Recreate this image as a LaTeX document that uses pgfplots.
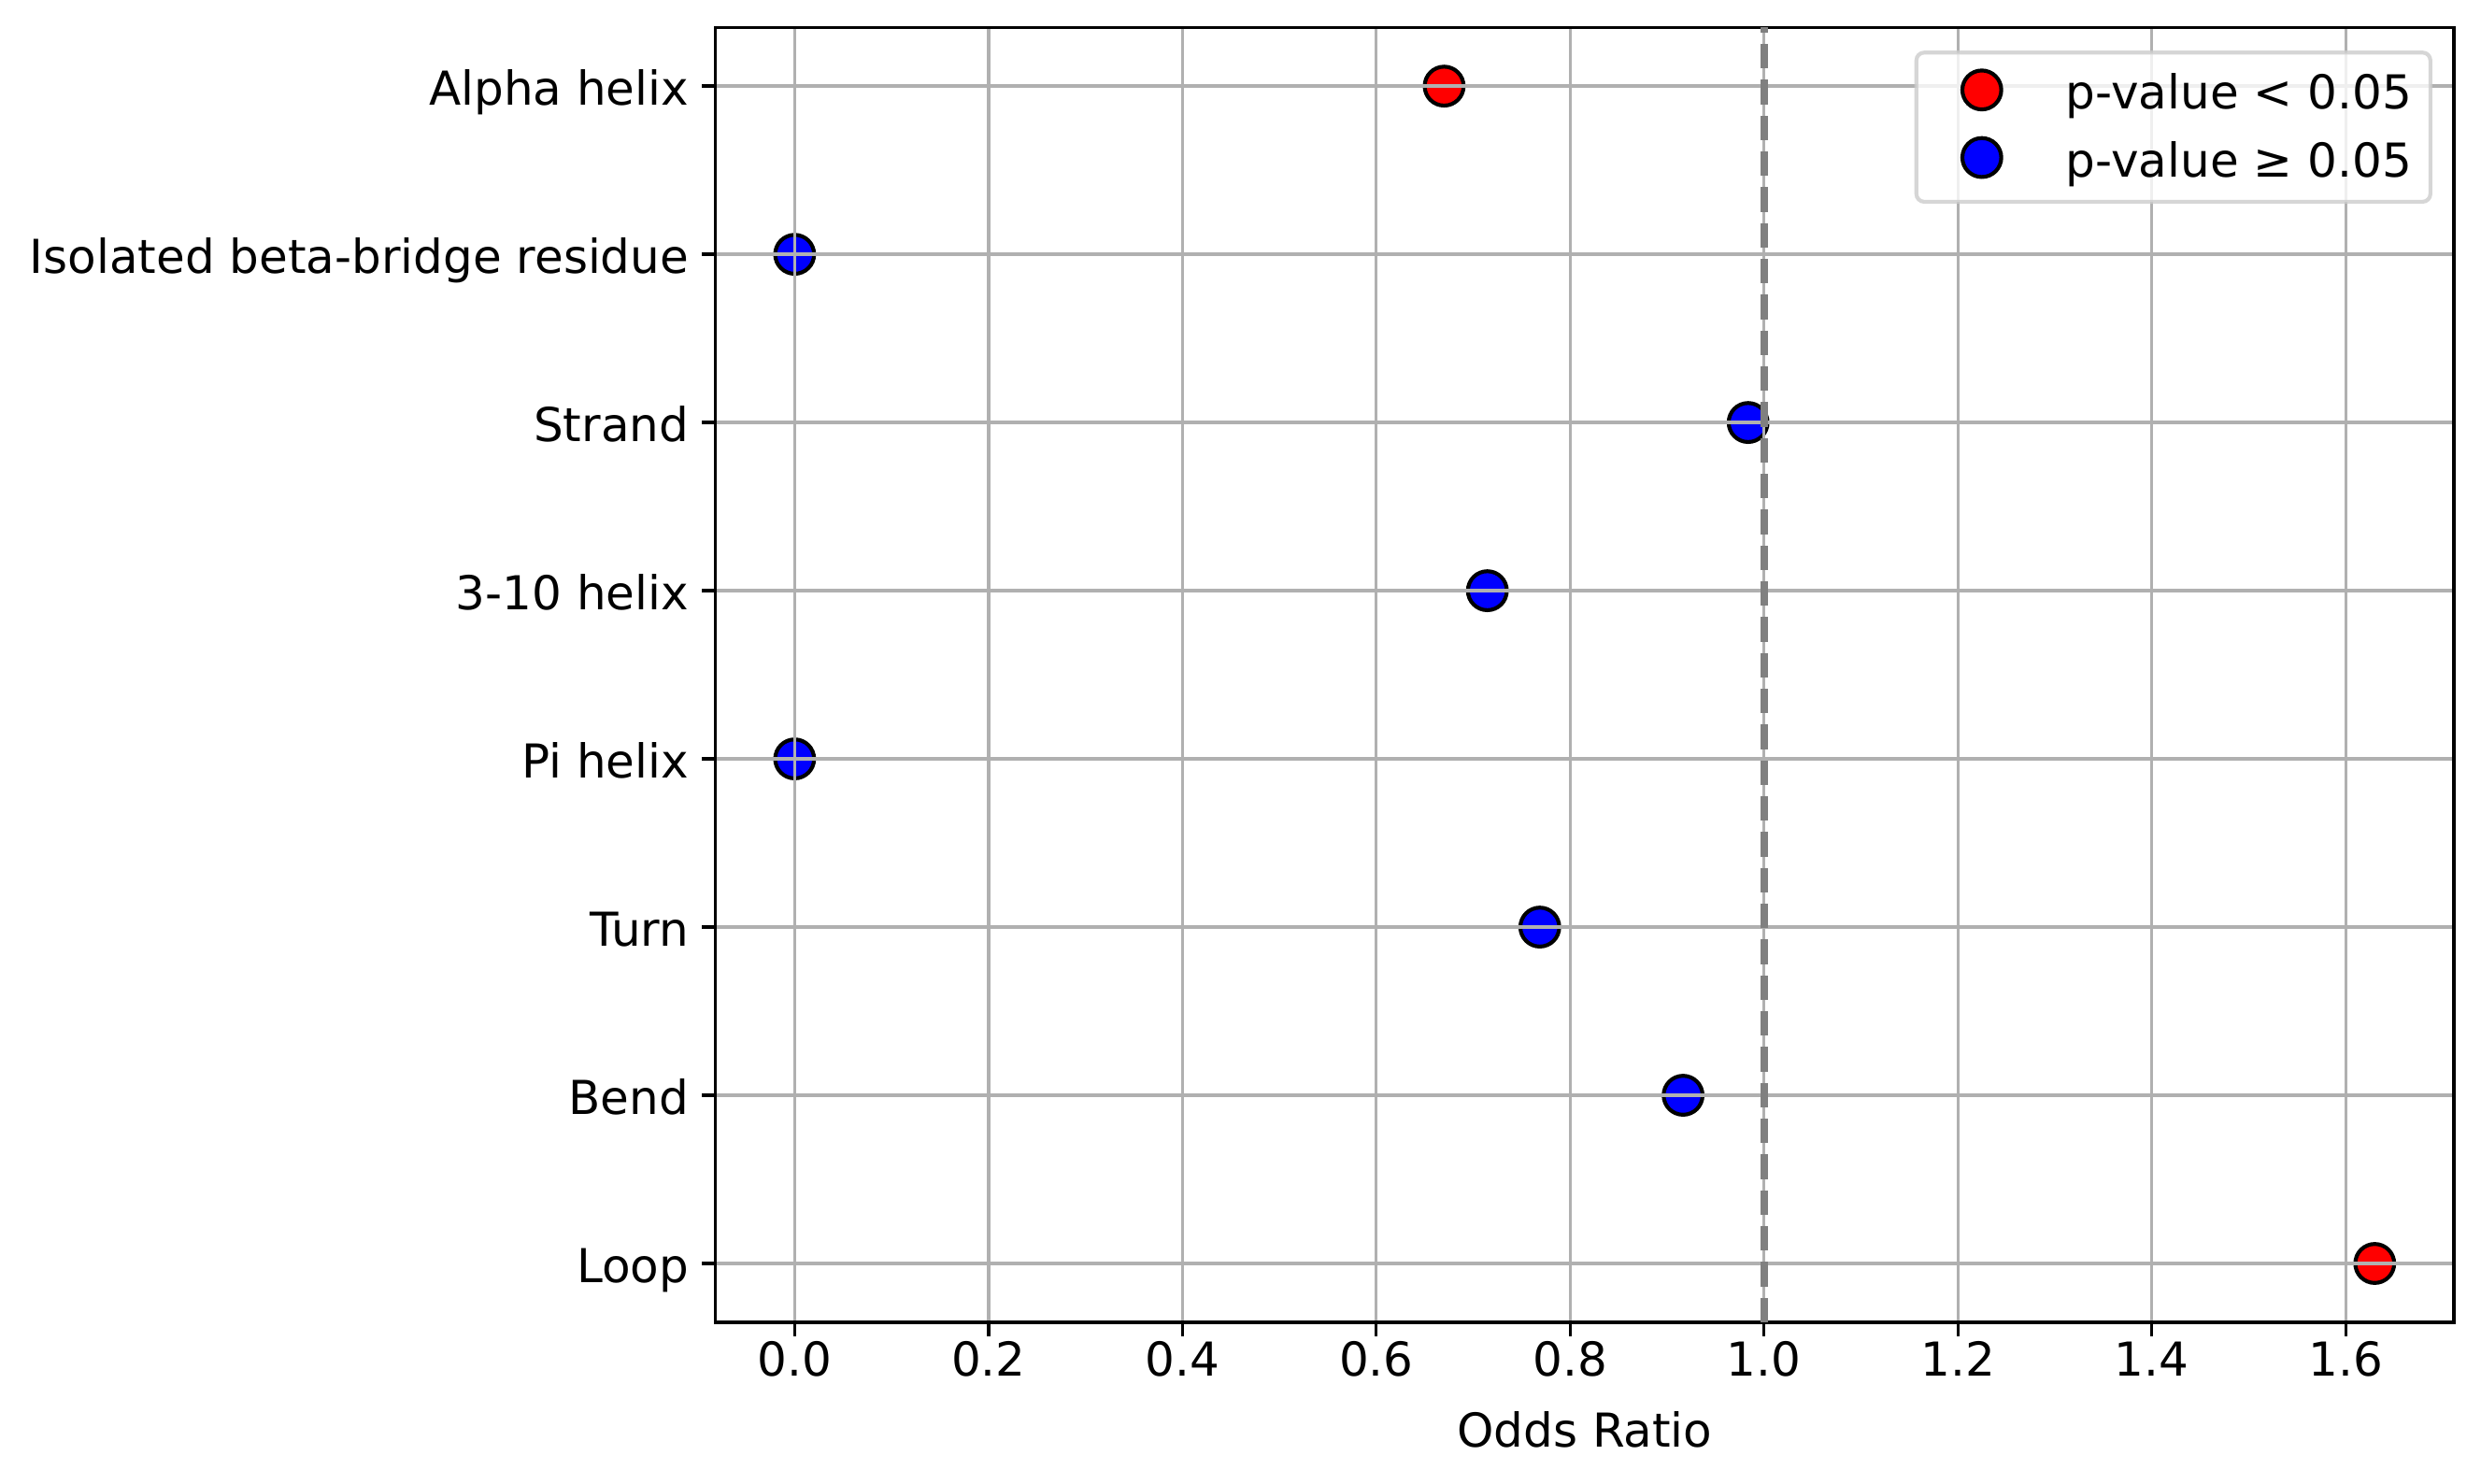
\documentclass[border=0pt]{standalone}
\usepackage{fontspec}
\setmainfont{DejaVu Sans}
\usepackage{pgfplots}
\pgfplotsset{compat=1.18}
\definecolor{gridgray}{HTML}{B0B0B0}
\definecolor{dashgray}{HTML}{808080}
\definecolor{legframe}{HTML}{CCCCCC}
\begin{document}
\fontsize{12}{14.4}\selectfont
\begin{tikzpicture}
\begin{axis}[
  at={(0,0)}, anchor=south west,
  scale only axis,
  width=446.4pt, height=332.6pt,
  xmin=-0.0815, xmax=1.7115,
  ymin=-0.35, ymax=7.35,
  set layers, axis on top,
  xtick={0,0.2,0.4,0.6,0.8,1.0,1.2,1.4,1.6},
  ytick={0,1,2,3,4,5,6,7},
  yticklabels={Loop,Bend,Turn,Pi helix,3-10 helix,Strand,Isolated beta-bridge residue,Alpha helix},
  tick pos=left,
  tick align=outside,
  major tick length=3.5pt,
  tick style={black, line width=0.8pt},
  axis line style={black, line width=0.8pt},
  grid=major,
  major grid style={gridgray, line width=0.8pt},
  /pgf/number format/assume math mode=true,
  xticklabel style={/pgf/number format/fixed, /pgf/number format/fixed zerofill, /pgf/number format/precision=1},
  every x tick label/.append style={anchor=base, inner sep=0pt, yshift=-10.3pt},
  every y tick label/.append style={anchor=base east, inner sep=0pt, xshift=-3.2pt, yshift=-4.85pt},
  xlabel={Odds Ratio},
  x label style={at={(axis description cs:0.5,0)}, anchor=base, inner sep=0pt, yshift=-32pt},
  legend cell align=left,
  legend image code/.code={\path[draw=none, fill=none] (0pt,0pt) -- (24pt,0pt);
    \path[#1, draw=none, opacity=1, fill opacity=1, draw opacity=1,
      every mark/.append style={opacity=1, fill opacity=1, draw opacity=1}]
      plot coordinates {(12pt,1.3pt)};},
  legend style={at={(1,1)}, anchor=north east, xshift=-5.5pt, yshift=-6pt,
    draw=legframe, line width=1pt, rounded corners=2pt, fill=white, fill opacity=0.8, draw opacity=0.8, text opacity=1,
    inner xsep=4.8pt, inner ysep=4.6pt, row sep=5.6pt, column sep=0pt,
    nodes={inner sep=0pt}, font=\fontsize{12}{14.4}\selectfont},
]
\addplot[only marks, mark=*, mark size=5pt, mark options={draw=black, fill=red, line width=1pt}]
  coordinates {(0.670,7) (1.630,0)};
\addlegendentry{\hspace{9.6pt}p-value < 0.05}
\addplot[only marks, mark=*, mark size=5pt, mark options={draw=black, fill=blue, line width=1pt}]
  coordinates {(0,6) (0.9836,5) (0.7146,4) (0,3) (0.7687,2) (0.9165,1)};
\addlegendentry{\hspace{9.6pt}p-value ≥ 0.05}
\addplot[on layer=axis foreground, forget plot, dashgray, line width=2pt, dash pattern=on 6.3pt off 2.9pt]
  coordinates {(1,-0.35) (1,7.35)};
\end{axis}
\pgfresetboundingbox
\useasboundingbox (-183.8pt,-41.3pt) rectangle (453.4pt,339.6pt);
\end{tikzpicture}
\end{document}
